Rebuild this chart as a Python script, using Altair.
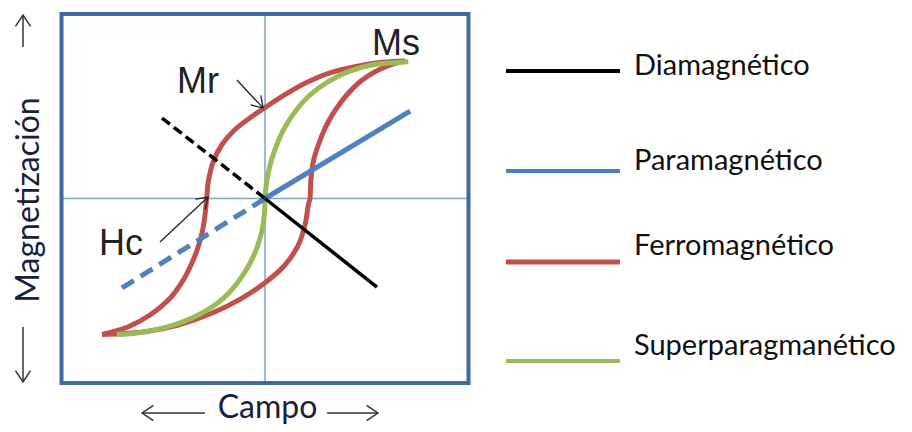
import altair as alt
import pandas as pd
import numpy as np

# ---------------- data (normalised units: frame edges at +/-1) ----------------
# Superparamagnético (green) curve
green_H = [-0.7287, -0.6388, -0.4752, -0.3278, -0.2049, -0.1312, -0.0786, -0.0408, -0.0162, -0.0034, 0.0,
           0.0084, 0.0295, 0.0575, 0.0948, 0.1474, 0.2211, 0.3111, 0.4093, 0.5243, 0.7042]
green_M = [-0.7360, -0.7306, -0.6949, -0.6314, -0.5409, -0.4509, -0.3604, -0.2699, -0.1799, -0.0894, 0.0,
           0.0911, 0.1995, 0.2900, 0.3805, 0.4705, 0.5610, 0.6331, 0.6873, 0.7236, 0.7415]

# Ferromagnético (red) hysteresis loop: descending branch (upper/left)
red_dn_H = [-0.8010, -0.6717, -0.5651, -0.4668, -0.4064, -0.3636, -0.3307, -0.3081, -0.2948, -0.2865, -0.2786,
            -0.2541, -0.2128, -0.1474, -0.0575, 0.0, 0.0821, 0.1966, 0.3111, 0.4423, 0.5735, 0.6880]
red_dn_M = [-0.7370, -0.6949, -0.6314, -0.5409, -0.4509, -0.3604, -0.2699, -0.1799, -0.0894, 0.0, 0.0911,
            0.1995, 0.2900, 0.3740, 0.4499, 0.4921, 0.5518, 0.6244, 0.6786, 0.7144, 0.7382, 0.7453]
# ascending branch (lower/right)
red_up_H = [-0.8010, -0.5897, -0.4260, -0.2619, -0.1145, 0.0034, 0.0983, 0.1636, 0.1966, 0.2128, 0.2211,
            0.2246, 0.2373, 0.2619, 0.2948, 0.3405, 0.4015, 0.4668, 0.5405, 0.6226, 0.6880]
red_up_M = [-0.7370, -0.7220, -0.6856, -0.6222, -0.5409, -0.4542, -0.3604, -0.2520, -0.1436, -0.0352, 0.0,
            0.0911, 0.1995, 0.2900, 0.3805, 0.4705, 0.5610, 0.6331, 0.6873, 0.7274, 0.7453]

# Paramagnético (blue) straight line: dashed part, solid part
blue_dash_H = [-0.703, 0.0]
blue_dash_M = [-0.485, 0.0]
blue_solid_H = [0.0, 0.713]
blue_solid_M = [0.0, 0.474]

# Diamagnético (black) straight line
black_dash_H = [-0.506, 0.0]
black_dash_M = [0.436, 0.0]
black_solid_H = [0.0, 0.550]
black_solid_M = [0.0, -0.480]

# legend
legend_names = ["Diamagnético", "Paramagnético", "Ferromagnético", "Superparagmanético"]
legend_colors = ["#000000", "#4f81bd", "#c0504d", "#9bbb59"]

# annotations
ann_text = ["Ms", "Mr", "Hc"]
ann_H = [0.526, -0.432, -0.816]
ann_M = [0.778, 0.572, -0.306]
# annotation arrows: tail -> tip
arr_tail_H = [-0.138, -0.516]
arr_tail_M = [0.642, -0.236]
arr_tip_H = [-0.010, -0.280]
arr_tip_M = [0.491, 0.008]

# ---------------- layout / style ----------------
W, HGT = 896, 416
PX0, PY0, SX, SY = 265.0, 198.5, 203.5, 184.5   # page px of origin, px per unit
xdom = [(8 - PX0) / SX, (8 + W - PX0) / SX]
ydom = [(PY0 - 8 - HGT) / SY, (PY0 - 8) / SY]
xs = alt.Scale(domain=xdom, nice=False, zero=False)
ys = alt.Scale(domain=ydom, nice=False, zero=False)

RED, GREEN, BLUE, BLACK = "#c0504d", "#9bbb59", "#4f81bd", "#000000"
FRAME = "#41699b"
CROSS = "#7aa3d6"
TXT = "#17213a"
CHEVRON = "M-1.5,-1L0,0L-1.5,1"


def X(f="H"):
    return alt.X(f + ":Q", scale=xs, axis=None)


def Y(f="M"):
    return alt.Y(f + ":Q", scale=ys, axis=None)


def line(hs, ms, color, width, dash=None, interp="catmull-rom"):
    df = pd.DataFrame({"H": hs, "M": ms, "i": range(len(hs))})
    kw = dict(color=color, strokeWidth=width, interpolate=interp)
    if dash:
        kw["strokeDash"] = dash
    return alt.Chart(df).mark_line(**kw).encode(x=X(), y=Y(), order="i:Q")


# frame
frame = alt.Chart(pd.DataFrame({"H": [-1], "H2": [1], "M": [-1], "M2": [1]})).mark_rect(
    filled=False, stroke=FRAME, strokeWidth=4
).encode(x=X(), x2="H2", y=Y(), y2="M2")

cross = alt.Chart(pd.DataFrame({"H": [0, -1], "H2": [0, 1], "M": [-1, 0], "M2": [1, 0]})).mark_rule(
    color=CROSS, strokeWidth=1.5
).encode(x=X(), x2="H2", y=Y(), y2="M2")

red1 = line(red_dn_H, red_dn_M, RED, 5)
red2 = line(red_up_H, red_up_M, RED, 5)
green = line(green_H, green_M, GREEN, 5)
blue1 = line(blue_dash_H, blue_dash_M, BLUE, 5, dash=[14, 8], interp="linear")
blue2 = line(blue_solid_H, blue_solid_M, BLUE, 5, interp="linear")
black1 = line(black_dash_H, black_dash_M, BLACK, 3.5, dash=[10, 5], interp="linear")
black2 = line(black_solid_H, black_solid_M, BLACK, 3.5, interp="linear")

# annotations text
ann = alt.Chart(pd.DataFrame({"H": ann_H, "M": ann_M, "t": ann_text})).mark_text(
    font="Liberation Sans", fontSize=36, align="left", baseline="alphabetic", color="#222222"
).encode(x=X(), y=Y(), text="t:N")

# annotation arrows (shafts + heads)
arr_df = pd.DataFrame({"H": arr_tail_H, "M": arr_tail_M, "H2": arr_tip_H, "M2": arr_tip_M})
arr_df["ang"] = np.degrees(np.arctan2(-(arr_df["M2"] - arr_df["M"]) * SY, (arr_df["H2"] - arr_df["H"]) * SX)) % 360
shafts = alt.Chart(arr_df).mark_rule(color="#222222", strokeWidth=1.3).encode(x=X(), x2="H2", y=Y(), y2="M2")
heads = alt.Chart(arr_df).mark_point(shape=CHEVRON, size=200, strokeWidth=1.3, color="#222222", opacity=1).encode(
    x=X("H2"), y=Y("M2"), angle=alt.Angle("ang:Q", scale=None)
)

# axis titles with arrows
ylab = alt.Chart(pd.DataFrame({"H": [(39 - PX0) / SX], "M": [(PY0 - 200) / SY], "t": ["Magnetización"]})).mark_text(
    font="Lato", fontSize=32, angle=270, align="center", baseline="alphabetic", color=TXT
).encode(x=X(), y=Y(), text="t:N")
xlab = alt.Chart(pd.DataFrame({"H": [(267.5 - PX0) / SX], "M": [(PY0 - 418) / SY], "t": ["Campo"]})).mark_text(
    font="Lato", fontSize=32, align="center", baseline="alphabetic", color=TXT
).encode(x=X(), y=Y(), text="t:N")

AX_Y = 413
ax_arrows = pd.DataFrame({
    "H": [(23 - PX0) / SX, (23 - PX0) / SX, (205 - PX0) / SX, (327 - PX0) / SX],
    "M": [(PY0 - 47) / SY, (PY0 - 327) / SY, (PY0 - AX_Y) / SY, (PY0 - AX_Y) / SY],
    "H2": [(23 - PX0) / SX, (23 - PX0) / SX, (142 - PX0) / SX, (378 - PX0) / SX],
    "M2": [(PY0 - 15) / SY, (PY0 - 382) / SY, (PY0 - AX_Y) / SY, (PY0 - AX_Y) / SY],
})
ax_arrows["ang"] = np.degrees(np.arctan2(-(ax_arrows["M2"] - ax_arrows["M"]) * SY,
                                         (ax_arrows["H2"] - ax_arrows["H"]) * SX)) % 360
ax_shafts = alt.Chart(ax_arrows).mark_rule(color="#333333", strokeWidth=1.5).encode(x=X(), x2="H2", y=Y(), y2="M2")
ax_heads = alt.Chart(ax_arrows).mark_point(shape=CHEVRON, size=230, strokeWidth=1.5, color="#333333", opacity=1).encode(
    x=X("H2"), y=Y("M2"), angle=alt.Angle("ang:Q", scale=None)
)

# legend (manual)
leg_line_y = [71, 171, 262, 361]
leg_text_y = [75, 170, 255, 355]
leg_widths = [4, 4, 5, 4]
leg_df = pd.DataFrame({
    "name": legend_names, "col": legend_colors, "w": leg_widths,
    "H": [(506 - PX0) / SX] * 4, "H2": [(620 - PX0) / SX] * 4,
    "M": [(PY0 - v) / SY for v in leg_line_y],
    "Ht": [(634 - PX0) / SX] * 4,
    "Mt": [(PY0 - v) / SY for v in leg_text_y],
})
leg_lines = alt.Chart(leg_df).mark_rule().encode(
    x=X(), x2="H2", y=Y(), color=alt.Color("col:N", scale=None), strokeWidth=alt.StrokeWidth("w:Q", scale=None)
)
leg_text = alt.Chart(leg_df).mark_text(
    font="Lato", fontSize=29, align="left", baseline="alphabetic", color="#111111"
).encode(x=X("Ht"), y=Y("Mt"), text="name:N")

chart = alt.layer(
    cross, red1, red2, green, blue1, blue2, black1, black2, frame,
    ann, shafts, heads, ylab, xlab, ax_shafts, ax_heads, leg_lines, leg_text
).properties(width=W, height=HGT, padding=0, autosize=alt.AutoSizeParams(type="none")).configure_view(stroke=None)

chart.save("out.html", embed_options={"renderer": "svg", "actions": False})
